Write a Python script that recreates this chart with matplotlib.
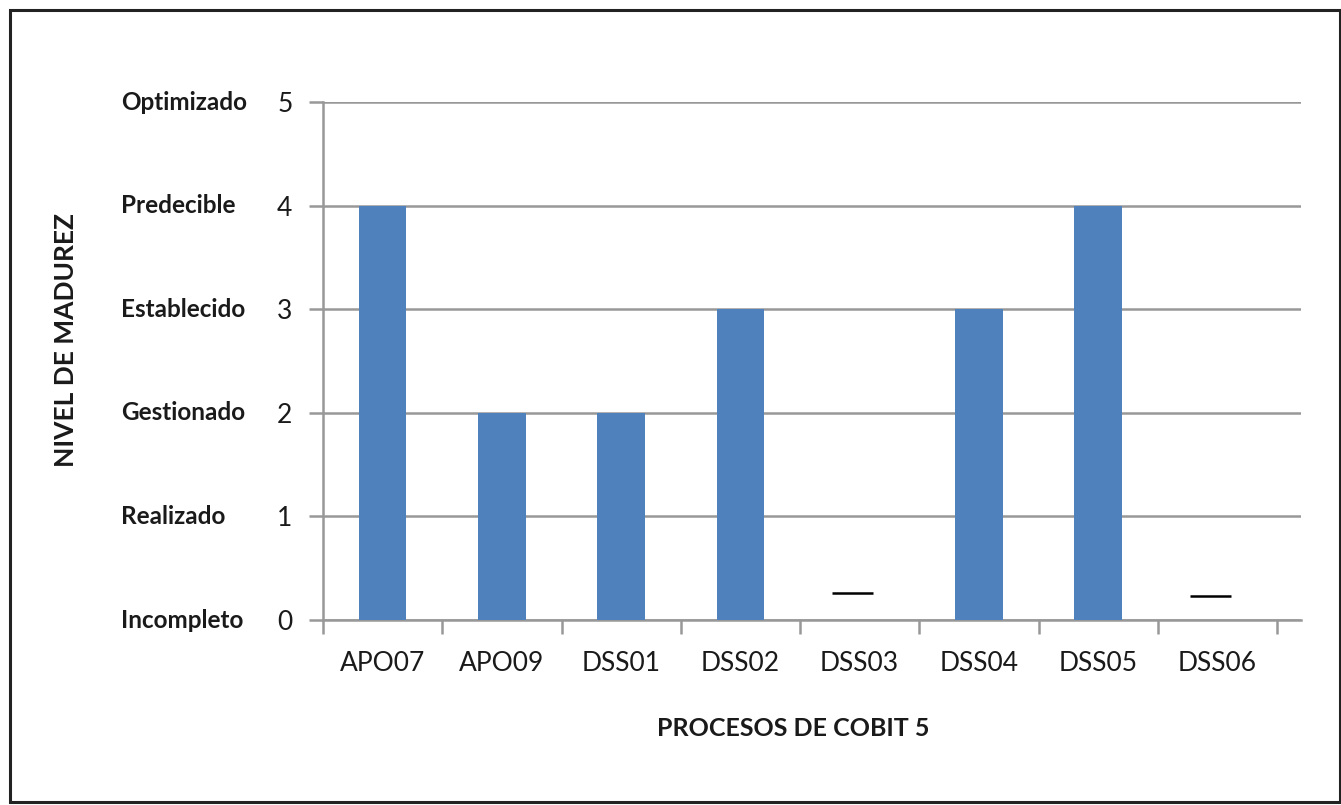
import matplotlib.pyplot as plt
from matplotlib.patches import Rectangle
import matplotlib.transforms as mtransforms

procesos = ["APO07", "APO09", "DSS01", "DSS02", "DSS03", "DSS04", "DSS05", "DSS06"]
nivel = [4, 2, 2, 3, 0, 3, 4, 0]
# small dash markers drawn over the empty categories
dash_idx = [4, 7]
dash_vals = [0.26, 0.23]
niveles = ["Incompleto", "Realizado", "Gestionado", "Establecido", "Predecible", "Optimizado"]

plt.rcParams["font.family"] = ["Lato", "DejaVu Sans"]

W, H = 1341, 805
fig = plt.figure(figsize=(W / 100, H / 100), dpi=100)

# axes: x 323..1301 px, y 102..620 px
ax = fig.add_axes([323 / W, 1 - 620 / H, (1301 - 323) / W, (620 - 102) / H])

x = list(range(len(procesos)))
ax.bar(x, nivel, width=0.4, color="#4F81BD", zorder=3)
for i, v in zip(dash_idx, dash_vals):
    ax.hlines(v, i - 0.23, i + 0.11, color="black", linewidth=1.8, zorder=4)

cat_w = 119.4
ax.set_xlim(-0.5, 7.5 + (1301 - 1277) / cat_w)
ax.set_ylim(0, 5)

grid_c = "#989898"
ax.set_yticks(range(6))
ax.set_yticklabels([str(i) for i in range(6)], fontsize=19, color="#1a1a1a")
ax.yaxis.grid(True, color=grid_c, linewidth=1.8)
ax.set_axisbelow(True)

ax.set_xticks([i - 0.5 for i in range(len(procesos) + 1)])
ax.set_xticklabels([])
ax.set_xticks(x, minor=True)
ax.set_xticklabels(procesos, minor=True, fontsize=19, color="#1a1a1a")
ax.tick_params(axis="x", which="minor", length=0, pad=22)
ax.tick_params(axis="x", which="major", length=10, width=1.8, color=grid_c)
ax.tick_params(axis="y", length=10, width=1.8, color=grid_c, pad=12)

for s in ["top", "right"]:
    ax.spines[s].set_visible(False)
for s in ["left", "bottom"]:
    ax.spines[s].set_color(grid_c)
    ax.spines[s].set_linewidth(1.8)

# maturity level names
trans = mtransforms.blended_transform_factory(fig.transFigure, ax.transData)
for i, name in enumerate(niveles):
    fig.text(121 / W, i, name, transform=trans, fontsize=17.5, fontweight="bold",
             ha="left", va="center", color="#1a1a1a")

fig.text(66 / W, 1 - 340 / H, "NIVEL DE MADUREZ", rotation=90, fontsize=19,
         fontweight="bold", ha="center", va="center", color="#1a1a1a")
fig.text(793 / W, 1 - 728 / H, "PROCESOS DE COBIT 5", fontsize=18,
         fontweight="bold", ha="center", va="center", color="#1a1a1a")

fig.patches.append(Rectangle((9.5 / W, 1 - 802 / H), (1339.5 - 9.5) / W, (802 - 10) / H,
                             transform=fig.transFigure, fill=False,
                             edgecolor="#222222", linewidth=2.2))

fig.savefig("out.png", dpi=100)
